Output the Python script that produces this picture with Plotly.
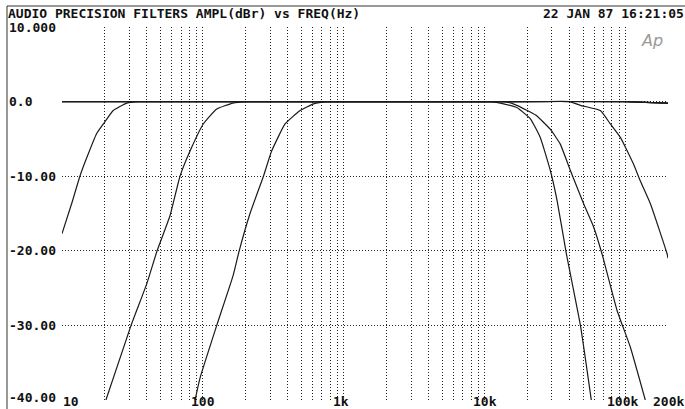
import math
import plotly.graph_objects as go

# readings: frequency (Hz) and amplitude (dBr)
hp1_freq = [10, 11.7, 13.4, 15, 17.6, 20, 23.1, 28.8, 35, 50, 100, 1000, 10000, 100000, 200000]
hp1_db = [-17.7, -13.7, -10.0, -7.5, -4.3, -2.8, -1.2, -0.2, 0.0, 0.0, 0.0, 0.0, 0.0, 0.0, -0.2]

hp2_freq = [20.5, 30.9, 40, 47.3, 58.4, 68.8, 83.4, 100.6, 125.4, 163, 200, 300,
            1000, 10000, 100000, 200000]
hp2_db = [-40, -30, -24.4, -20, -15.3, -10, -6.1, -3.0, -1.0, -0.2, 0.0, 0.0,
          0.0, 0.0, 0.0, -0.2]

hp3_freq = [88, 95.6, 125.4, 164, 181, 216, 269, 308, 383, 490, 610, 757, 1000,
            3000, 10000, 100000, 200000]
hp3_db = [-40, -37, -30, -23.3, -20, -15, -10, -6.6, -3.0, -1.2, -0.3, 0.0, 0.0,
          0.0, 0.0, 0.0, -0.2]

lp1_freq = [10, 100, 1000, 5000, 9000, 11000, 12900, 16900, 21100, 24800, 29200,
            32600, 38000, 47800, 57100]
lp1_db = [0.0, 0.0, 0.0, 0.0, 0.0, 0.0, -0.2, -0.8, -2.3, -4.8, -9.2,
          -13.2, -20.4, -30, -40]

lp2_freq = [10, 100, 1000, 7000, 11000, 14000, 16900, 23000, 29200, 34400, 40500,
            50400, 59300, 68000, 87000, 108000, 138000]
lp2_db = [0.0, 0.0, 0.0, 0.0, 0.0, 0.0, -0.5, -1.8, -3.7, -5.7, -9.2,
          -13.7, -16.8, -20.4, -28, -32.9, -40]

lp3_freq = [10, 100, 1000, 10000, 25000, 40000, 47800, 66200, 78000, 91800, 114000,
            127000, 150000, 197000, 200000]
lp3_db = [0.0, 0.0, 0.0, 0.0, 0.0, 0.0, -0.5, -1.2, -3.0, -4.8, -8.4,
          -10.6, -13.7, -20.4, -21.0]

x_labels = ["10", "100", "1k", "10k", "100k", "200k"]
x_label_freq = [10, 100, 1000, 10000, 100000, 200000]
y_labels = ["10.000", "0.0", "-10.00", "-20.00", "-30.00", "-40.00"]
y_label_vals = [10, 0, -10, -20, -30, -40]

W, H = 685, 409
L, R, T, B = 62, 17, 27, 9
PW, PH = W - L - R, H - T - B
FONT = "DejaVu Sans Mono"

def px_x(x):
    return (x - L) / PW

def px_y(y):
    return (H - B - y) / PH

fig = go.Figure()
for f, d in [(hp1_freq, hp1_db), (hp2_freq, hp2_db), (hp3_freq, hp3_db),
             (lp1_freq, lp1_db), (lp2_freq, lp2_db), (lp3_freq, lp3_db)]:
    fig.add_trace(go.Scatter(x=f, y=d, mode="lines", showlegend=False,
                             line=dict(color="#1a1a1a", width=1.2, shape="spline",
                                       smoothing=0.4)))

grid_x = [m * dec for dec in [10, 100, 1000, 10000, 100000] for m in range(1, 10)
          if m * dec <= 200000]

fig.update_xaxes(type="log", range=[1, 5.30103], tickvals=grid_x, showticklabels=False,
                 showgrid=True, gridcolor="#222", griddash="1px,2px", gridwidth=1,
                 zeroline=False, showline=False, ticks="")
fig.update_yaxes(range=[-40, 10], tickvals=y_label_vals, showticklabels=False,
                 showgrid=True, gridcolor="#222", griddash="1px,2px", gridwidth=1,
                 zeroline=False, showline=False, ticks="")

lab_font = dict(family=FONT, size=13, color="#111", weight="bold")

# x tick labels
for txt, fv in zip(x_labels, x_label_freq):
    anchor, shift = "center", 0
    if txt == "10":
        anchor = "left"
    elif txt in ("1k", "100k"):
        shift = -3
    elif txt == "200k":
        anchor, shift = "right", 17
    fig.add_annotation(x=math.log10(fv), y=0, xref="x", yref="paper", text=txt,
                       showarrow=False, xanchor=anchor, yanchor="bottom", xshift=shift,
                       yshift=-10, font=lab_font, borderpad=0)

# y tick labels
for txt, v in zip(y_labels, y_label_vals):
    fig.add_annotation(x=px_x(8), y=v, xref="paper", yref="y", text=txt,
                       showarrow=False, xanchor="left", yanchor="middle",
                       yshift=3 if v == -40 else 0, font=lab_font, borderpad=0)

fig.add_annotation(x=px_x(7), y=px_y(14), xref="paper", yref="paper",
                   text="AUDIO PRECISION FILTERS AMPL(dBr) vs FREQ(Hz)",
                   showarrow=False, xanchor="left", yanchor="middle", font=lab_font, borderpad=0)
fig.add_annotation(x=px_x(685), y=px_y(14), xref="paper", yref="paper",
                   text="22 JAN 87 16:21:05",
                   showarrow=False, xanchor="right", yanchor="middle", font=lab_font, borderpad=0)
fig.add_annotation(x=px_x(652), y=px_y(40), xref="paper", yref="paper", text="Ap",
                   showarrow=False, xanchor="center", yanchor="middle",
                   font=dict(family="DejaVu Sans", size=16, color="#999", style="italic"))

# scanned page edges
fig.add_shape(type="line", xref="paper", yref="paper", x0=px_x(7), x1=px_x(685),
              y0=px_y(6), y1=px_y(6), line=dict(color="#333", width=1))
fig.add_shape(type="line", xref="paper", yref="paper", x0=px_x(7), x1=px_x(7),
              y0=px_y(6), y1=px_y(409), line=dict(color="#333", width=1))

fig.update_layout(width=W, height=H, margin=dict(l=L, r=R, t=T, b=B),
                  plot_bgcolor="white", paper_bgcolor="white")

fig.write_html("out.html", config={"displayModeBar": False},
               post_script="document.body.style.margin='0px';")
